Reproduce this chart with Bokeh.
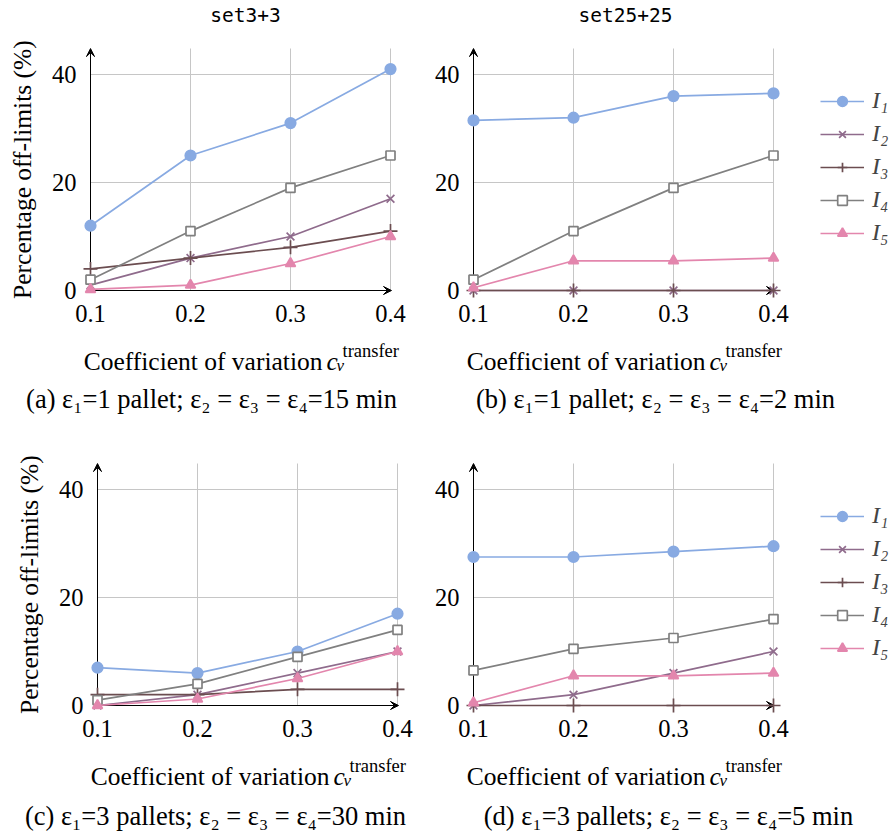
import math
from bokeh.plotting import figure
from bokeh.layouts import gridplot
from bokeh.models import (Range1d, FixedTicker, Arrow, VeeHead, Legend,
                          LegendItem, Grid)
from bokeh.core.properties import value
from bokeh.embed import file_html
from bokeh.resources import INLINE

# ---------------- data ----------------
cv = [0.1, 0.2, 0.3, 0.4]
series_names = ["I\u2081", "I\u2082", "I\u2083", "I\u2084", "I\u2085"]
x_ticks = [0.1, 0.2, 0.3, 0.4]
x_tick_labels = ["0.1", "0.2", "0.3", "0.4"]
y_ticks = [0, 20, 40]
y_tick_labels = ["0", "20", "40"]
y_axis_top = 44.8
x_axis_end = 0.401

a_I1 = [12, 25, 31, 41]
a_I2 = [1, 6, 10, 17]
a_I3 = [4, 6, 8, 11]
a_I4 = [2, 11, 19, 25]
a_I5 = [0.2, 1, 5, 10]

b_I1 = [31.5, 32, 36, 36.5]
b_I2 = [0, 0, 0, 0]
b_I3 = [0, 0, 0, 0]
b_I4 = [2, 11, 19, 25]
b_I5 = [0.5, 5.5, 5.5, 6]

c_I1 = [7, 6, 10, 17]
c_I2 = [0, 2, 6, 10]
c_I3 = [2, 2, 3, 3]
c_I4 = [1, 4, 9, 14]
c_I5 = [0, 1.2, 5, 10]

d_I1 = [27.5, 27.5, 28.5, 29.5]
d_I2 = [0, 2, 6, 10]
d_I3 = [0, 0, 0, 0]
d_I4 = [6.5, 10.5, 12.5, 16]
d_I5 = [0.5, 5.5, 5.5, 6]

titles = ["set3+3", "set25+25"]
captions = [
    "(a) \u03b5\u2081=1 pallet; \u03b5\u2082 = \u03b5\u2083 = \u03b5\u2084=15 min",
    "(b) \u03b5\u2081=1 pallet; \u03b5\u2082 = \u03b5\u2083 = \u03b5\u2084=2 min",
    "(c) \u03b5\u2081=3 pallets; \u03b5\u2082 = \u03b5\u2083 = \u03b5\u2084=30 min",
    "(d) \u03b5\u2081=3 pallets; \u03b5\u2082 = \u03b5\u2083 = \u03b5\u2084=5 min",
]
ylabel = "Percentage off-limits (%)"
xlabel_main = "Coefficient of variation"
xlabel_sym = "c"
xlabel_sub = "v"
xlabel_sup = "transfer"

# ---------------- styles ----------------
SERIF = value("Liberation Serif")
colors = ["#88aae2", "#8f6b8c", "#6b4d50", "#808080", "#e386ad"]
markers = ["circle", "x", "cross", "square", "triangle"]
msizes = [10.5, 11, 14, 9, 10]
fills = [colors[0], None, None, "white", colors[4]]
GRID = "#c6c6c6"
PX_X = 1000.0   # pixels per x unit
PX_Y = 5.4      # pixels per y unit


def make_panel(series, W, H, ox, oy, title=None, title_dx=0, with_ylabel=False,
               with_legend=False, legend_y=0, caption="", cap_dx=0, cap_dy=108):
    """ox, oy: pixel position (from the figure's top-left) of the point x=0.1, y=0."""
    x0 = 0.1 - ox / PX_X
    y_top = oy / PX_Y
    p = figure(width=W, height=H,
               x_range=Range1d(x0, x0 + W / PX_X),
               y_range=Range1d(y_top - H / PX_Y, y_top),
               x_axis_type=None, y_axis_type=None,
               output_backend="svg", toolbar_location=None,
               min_border_left=0, min_border_top=0, min_border_right=0,
               min_border_bottom=0)
    p.outline_line_color = None
    p.background_fill_color = "white"
    p.border_fill_color = "white"

    # grid
    p.add_layout(Grid(dimension=0, ticker=FixedTicker(ticks=x_ticks),
                      grid_line_color=GRID, cross_bounds=(0, y_axis_top)))
    p.add_layout(Grid(dimension=1, ticker=FixedTicker(ticks=y_ticks[1:]),
                      grid_line_color=GRID, cross_bounds=(x_ticks[0], x_ticks[-1])))

    # axis arrows
    for xe, ye in ((x_ticks[0], y_axis_top), (x_axis_end, 0)):
        p.add_layout(Arrow(end=VeeHead(size=8, line_color="black",
                                       fill_color="black", line_width=1),
                           x_start=x_ticks[0], y_start=0, x_end=xe, y_end=ye,
                           line_color="black", line_width=1, level="underlay"))

    # tick labels
    p.text(x=x_ticks, y=[0] * len(x_ticks), text=x_tick_labels, y_offset=23,
           text_align="center", text_baseline="middle", text_font=SERIF,
           text_font_size="24.5px", text_color="black")
    p.text(x=[x_ticks[0]] * len(y_ticks), y=y_ticks, text=y_tick_labels,
           x_offset=-14, text_align="right", text_baseline="middle",
           text_font=SERIF, text_font_size="24.5px", text_color="black")

    if with_ylabel:
        p.text(x=[x_ticks[0]], y=[22.4], text=[ylabel], x_offset=-68,
               angle=math.pi / 2, text_align="center", text_baseline="middle",
               text_font=SERIF, text_font_size="25.5px", text_color="black")

    if title:
        p.text(x=[0.25], y=[0], text=[title], x_offset=title_dx, y_offset=-275,
               text_align="center", text_baseline="middle",
               text_font=value("DejaVu Sans Mono"), text_font_size="19.5px",
               text_color="black")

    # x axis title: Coefficient of variation c_v^transfer
    base = 70.5
    p.text(x=[0.1], y=[0], text=[xlabel_main], x_offset=232, y_offset=base,
           text_align="right", text_baseline="alphabetic", text_font=SERIF,
           text_font_size="25.5px", text_color="black")
    p.text(x=[0.1], y=[0], text=[xlabel_sym], x_offset=236, y_offset=base,
           text_align="left", text_baseline="alphabetic", text_font=SERIF,
           text_font_style="italic", text_font_size="25.5px", text_color="black")
    p.text(x=[0.1], y=[0], text=[xlabel_sub], x_offset=246, y_offset=base + 4,
           text_align="left", text_baseline="alphabetic", text_font=SERIF,
           text_font_style="italic", text_font_size="17px", text_color="black")
    p.text(x=[0.1], y=[0], text=[xlabel_sup], x_offset=252, y_offset=base - 10,
           text_align="left", text_baseline="alphabetic", text_font=SERIF,
           text_font_size="18.5px", text_color="black")

    # caption
    p.text(x=[0.1], y=[0], text=[caption], x_offset=cap_dx, y_offset=cap_dy,
           text_align="center", text_baseline="middle", text_font=SERIF,
           text_font_size="26.5px", text_color="black")

    items = []
    for vals, name, col, mk, ms, fc in zip(series, series_names, colors,
                                           markers, msizes, fills):
        lr = p.line(cv, vals, line_color=col, line_width=1.7)
        sr = p.scatter(cv, vals, marker=mk, size=ms, line_color=col,
                       fill_color=fc, line_width=1.7)
        items.append(LegendItem(label=name, renderers=[lr, sr]))

    if with_legend:
        leg = Legend(items=items, location=(400, legend_y), padding=0, margin=0,
                     spacing=6, glyph_width=44, glyph_height=24, label_height=24,
                     label_standoff=8, label_text_font="Liberation Serif",
                     label_text_font_style="italic", label_text_font_size="24px",
                     border_line_color=None, background_fill_alpha=0)
        p.add_layout(leg)
    return p


pa = make_panel([a_I1, a_I2, a_I3, a_I4, a_I5], 420, 440, 90, 290,
                title=titles[0], title_dx=5, with_ylabel=True,
                caption=captions[0], cap_dx=121, cap_dy=108)
pb = make_panel([b_I1, b_I2, b_I3, b_I4, b_I5], 471, 440, 53, 290,
                title=titles[1], title_dx=2, with_legend=True, legend_y=194,
                caption=captions[1], cap_dx=182, cap_dy=108)
pc = make_panel([c_I1, c_I2, c_I3, c_I4, c_I5], 420, 392, 97, 265,
                with_ylabel=True, caption=captions[2], cap_dx=118, cap_dy=110)
pd = make_panel([d_I1, d_I2, d_I3, d_I4, d_I5], 471, 392, 53, 265,
                with_legend=True, legend_y=171,
                caption=captions[3], cap_dx=195, cap_dy=110)

layout = gridplot([[pa, pb], [pc, pd]], toolbar_location=None)

open("out.html", "w").write(file_html(layout, INLINE))
